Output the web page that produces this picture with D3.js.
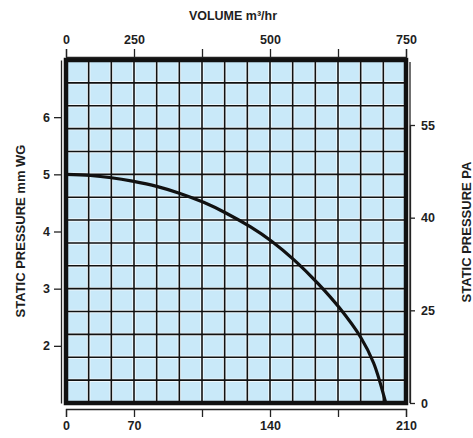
<!DOCTYPE html>
<html lang="en">
<head>
    <meta charset="utf-8">
    <title>Static pressure curve</title>
    <script src="https://cdn.jsdelivr.net/npm/d3@7"></script>
    <style>
        body { margin: 0; background: #fff; }
        svg text { font-family: "Liberation Sans", Arial, sans-serif; font-weight: bold; fill: #1e1e1e; }
    </style>
</head>
<body>
<div id="chart"></div>
<script>
    // curve: flow (bottom axis units) vs static pressure mm WG
    var flow     = [0, 15, 28, 41, 56, 70, 85, 99, 114, 127, 141, 156, 169, 182, 190, 197.5];
    var pressure = [5.0, 4.98, 4.94, 4.88, 4.79, 4.67, 4.51, 4.32, 4.08, 3.83, 3.5, 3.08, 2.66, 2.15, 1.7, 1.0];

    // tick labels as printed
    var topTicks    = [0, 150, 300, 450, 600, 750];
    var topLabels   = ["0", "250", "", "500", "", "750"];
    var bottomTicks = [0, 42, 84, 126, 168, 210];
    var bottomLabels = ["0", "70", "", "140", "", "210"];
    var leftTicks   = [2, 3, 4, 5, 6];
    var rightLabels = ["0", "25", "40", "55"];

    var W = 473, H = 438;
    // plot frame (note: "top" is reserved on window, so use pTop etc.)
    var pLeft = 66, pRight = 406, pTop = 60, pBottom = 403;

    var svg = d3.select("#chart").append("svg")
        .attr("width", W).attr("height", H);

    var x = d3.scaleLinear().domain([0, 210]).range([pLeft, pRight]);
    var xTop = d3.scaleLinear().domain([0, 750]).range([pLeft, pRight]);
    var y = d3.scaleLinear().domain([1, 7]).range([pBottom, pTop]);
    var yRight = d3.scaleLinear().domain([0, 3]).range([pBottom, 125]);

    // background
    svg.append("rect")
        .attr("x", pLeft).attr("y", pTop)
        .attr("width", pRight - pLeft).attr("height", pBottom - pTop)
        .attr("fill", "#c9e9f9");

    // grid: 15 x 15 cells
    var gx = d3.range(1, 15).map(function(i) { return 210 * i / 15; });
    var gy = d3.range(1, 15).map(function(i) { return 1 + 6 * i / 15; });
    var grid = svg.append("g");
    [["#eef8fd", 3.5], ["#111", 1.6]].forEach(function(s) {
        grid.selectAll(null).data(gx).enter().append("line")
            .attr("x1", function(d) { return x(d); }).attr("x2", function(d) { return x(d); })
            .attr("y1", pTop).attr("y2", pBottom)
            .attr("stroke", s[0]).attr("stroke-width", s[1]);
        grid.selectAll(null).data(gy).enter().append("line")
            .attr("y1", function(d) { return y(d); }).attr("y2", function(d) { return y(d); })
            .attr("x1", pLeft).attr("x2", pRight)
            .attr("stroke", s[0]).attr("stroke-width", s[1]);
    });

    // curve
    var pts = flow.map(function(f, i) { return [f, pressure[i]]; });
    svg.append("path")
        .datum(pts)
        .attr("fill", "none")
        .attr("stroke", "#111")
        .attr("stroke-width", 3.2)
        .attr("d", d3.line()
            .x(function(d) { return x(d[0]); })
            .y(function(d) { return y(d[1]); })
            .curve(d3.curveCatmullRom.alpha(0.5)));

    // frame
    svg.append("rect")
        .attr("x", pLeft).attr("y", pTop)
        .attr("width", pRight - pLeft).attr("height", pBottom - pTop)
        .attr("fill", "none").attr("stroke", "#111").attr("stroke-width", 4.5);

    function styleAxis(g) {
        g.select(".domain").attr("stroke", "#222").attr("stroke-width", 1.3);
        g.selectAll(".tick line").attr("stroke", "#222").attr("stroke-width", 1.3);
        g.selectAll(".tick text").style("font-size", "12.5px");
    }

    // top axis
    svg.append("g")
        .attr("transform", "translate(0,57)")
        .call(d3.axisTop(xTop).tickValues(topTicks)
            .tickFormat(function(d, i) { return topLabels[i]; })
            .tickSize(8).tickSizeOuter(8).tickPadding(5))
        .call(styleAxis);

    // bottom axis
    svg.append("g")
        .attr("transform", "translate(0,409)")
        .call(d3.axisBottom(x).tickValues(bottomTicks)
            .tickFormat(function(d, i) { return bottomLabels[i]; })
            .tickSize(8).tickSizeOuter(8).tickPadding(4))
        .call(styleAxis);

    // left axis
    svg.append("g")
        .attr("transform", "translate(61,0)")
        .call(d3.axisLeft(y).tickValues(leftTicks).tickFormat(d3.format("d"))
            .tickSize(7).tickSizeOuter(0).tickPadding(4))
        .call(styleAxis);

    // right axis (spine runs up to the frame top)
    svg.append("line")
        .attr("x1", 410).attr("x2", 410)
        .attr("y1", pTop + 2).attr("y2", pBottom)
        .attr("stroke", "#222").attr("stroke-width", 1.3);
    svg.append("g")
        .attr("transform", "translate(410,0)")
        .call(d3.axisRight(yRight)
            .tickValues([0, 1, 2, 3])
            .tickFormat(function(d, i) { return rightLabels[i]; })
            .tickSize(5).tickSizeOuter(0).tickPadding(6))
        .call(styleAxis);

    // axis titles
    svg.append("text")
        .attr("x", 233).attr("y", 20)
        .attr("text-anchor", "middle")
        .style("font-size", "12.5px")
        .text("VOLUME m³/hr");

    svg.append("text")
        .attr("transform", "translate(25,231) rotate(-90)")
        .attr("text-anchor", "middle")
        .style("font-size", "13px")
        .text("STATIC PRESSURE mm WG");

    svg.append("text")
        .attr("transform", "translate(471,232) rotate(-90)")
        .attr("text-anchor", "middle")
        .style("font-size", "13px")
        .text("STATIC PRESSURE PA");
</script>
</body>
</html>
